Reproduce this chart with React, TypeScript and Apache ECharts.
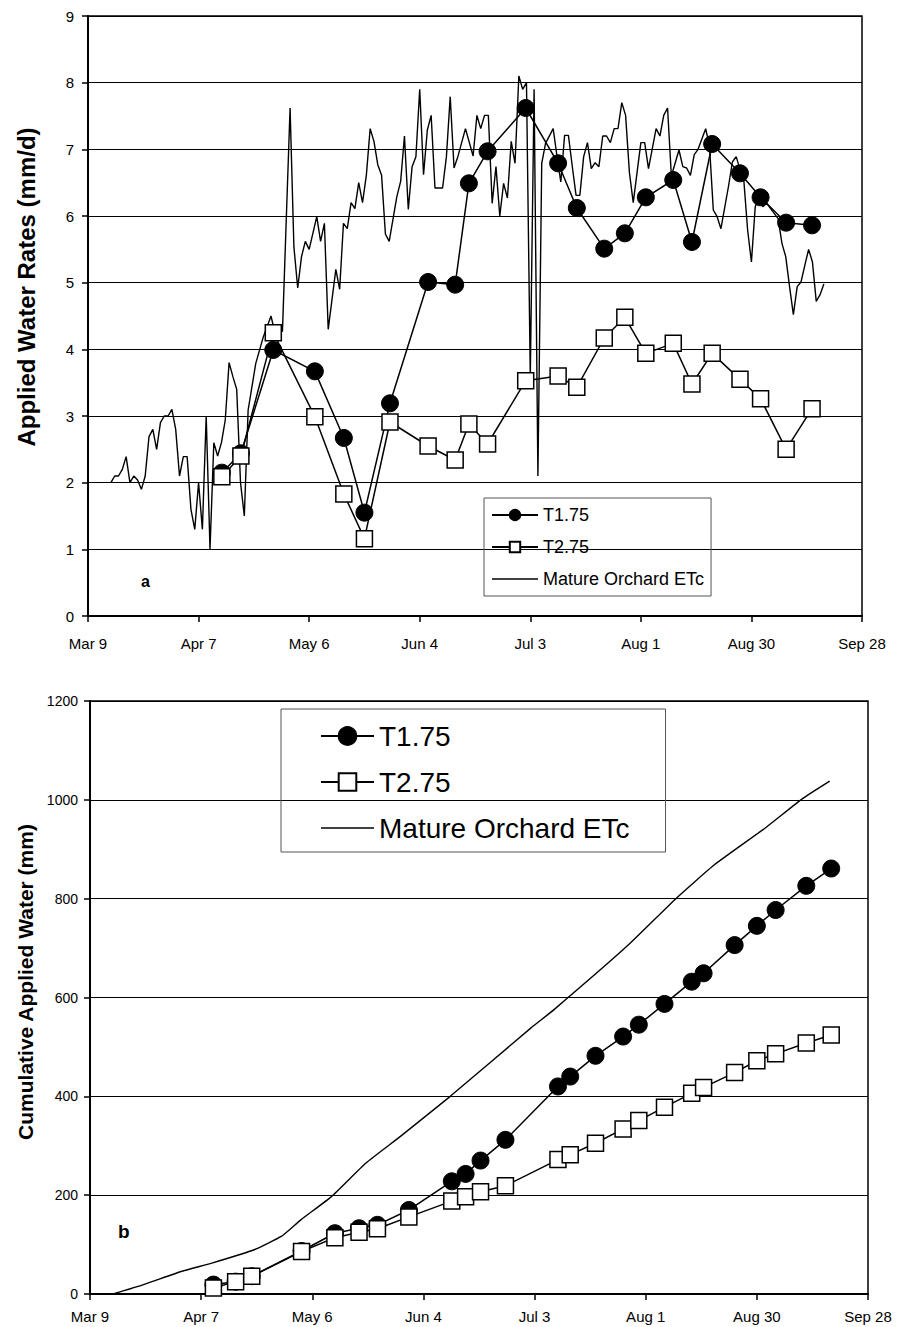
import React, { useEffect, useRef } from 'react';
import * as echarts from 'echarts';

const FONT = '"Liberation Sans", Arial, sans-serif';

const xTickLabels = ['Mar 9', 'Apr 7', 'May 6', 'Jun 4', 'Jul 3', 'Aug 1', 'Aug 30', 'Sep 28'];
const dayStep = 29;

// Panel a: daily Mature Orchard ETc (days after Mar 9, mm/d)
const etcRateDays = [
  6, 7, 8, 9, 10, 11, 12, 13, 14, 15, 16, 17, 18, 19, 20, 21, 22, 23, 24, 25, 26, 27, 28, 29, 30, 31, 32, 33, 34, 35,
  36, 37, 38, 39, 40, 41, 42, 44, 46, 48, 49, 51, 53, 54, 55, 56, 57, 58, 60, 61, 62, 63, 65, 66, 67, 68, 69, 70, 71,
  72, 73, 74, 75, 76, 77, 78, 79, 81, 82, 83, 84, 85, 86, 87, 88, 89, 90, 91, 93, 94, 95, 96, 97, 99, 101, 102, 103,
  104, 105, 106, 107, 108, 109, 110, 111, 112, 113, 114, 115, 116, 117, 118, 119, 120, 122, 123, 124, 125, 126, 127,
  128, 129, 130, 131, 132, 133, 134, 135, 136, 137, 138, 139, 140, 141, 142, 143, 145, 146, 147, 149, 150, 151, 152,
  153, 155, 156, 157, 158, 159, 160, 162, 163, 164, 165, 166, 168, 169, 170, 171, 172, 173, 174, 175, 176, 177, 178,
  181, 182, 183, 184, 185, 186, 187, 188, 189, 190, 191, 192, 193,
];
const etcRateValues = [
  2.0, 2.1, 2.1, 2.2, 2.39, 2.0, 2.1, 2.04, 1.9, 2.1, 2.69, 2.8, 2.5, 2.9, 3.0, 3.0, 3.1, 2.8, 2.1, 2.39, 2.39, 1.6, 1.3,
  2.0, 1.3, 3.0, 1.0, 2.6, 2.4, 2.6, 2.94, 3.8, 3.59, 3.4, 2.0, 1.5, 3.09, 3.79, 4.19, 4.5, 4.25, 4.27, 7.62, 5.54, 4.92,
  5.39, 5.62, 5.5, 5.99, 5.62, 5.89, 4.3, 5.2, 4.9, 5.89, 5.81, 6.2, 6.11, 6.5, 6.2, 6.61, 7.31, 7.12, 6.77, 6.61, 5.73,
  5.62, 6.29, 6.52, 7.2, 6.1, 6.74, 6.89, 7.9, 6.62, 7.29, 7.51, 6.42, 6.42, 6.89, 7.79, 6.72, 6.89, 7.31, 6.9, 7.51,
  7.31, 7.51, 7.51, 6.19, 6.74, 6.0, 6.49, 6.27, 7.12, 6.79, 8.1, 7.9, 8.0, 3.6, 7.9, 2.1, 6.79, 7.09, 7.31, 6.9, 6.51,
  7.21, 7.21, 6.75, 6.31, 6.31, 6.89, 7.1, 6.71, 6.8, 6.74, 7.2, 7.2, 7.1, 7.31, 7.31, 7.7, 7.51, 6.65, 6.2, 7.1, 7.1,
  6.71, 7.31, 7.2, 7.51, 7.62, 6.6, 6.99, 6.74, 6.72, 6.61, 6.92, 7.0, 7.31, 7.05, 6.09, 5.99, 5.81, 6.45, 6.81, 6.89,
  6.7, 6.54, 5.79, 5.31, 6.14, 6.3, 6.14, 6.19, 5.96, 5.59, 5.39, 4.94, 4.52, 4.94, 5.01, 5.26, 5.5, 5.31, 4.72, 4.82,
  4.98,
];

// Panel a: treatment rates
const rateDays = [35.1, 40.1, 48.6, 59.5, 67.1, 72.5, 79.2, 89.2, 96.3, 99.9, 104.8, 114.8, 123.3, 128.2, 135.4, 140.8, 146.3, 153.5, 158.4, 163.7, 171, 176.4, 183.1, 189.9];
const t1Rates = [2.15, 2.44, 3.99, 3.67, 2.67, 1.55, 3.19, 5.01, 4.97, 6.49, 6.97, 7.62, 6.79, 6.12, 5.51, 5.74, 6.28, 6.54, 5.61, 7.08, 6.64, 6.28, 5.9, 5.86];
const t2Rates = [2.09, 2.4, 4.25, 2.99, 1.83, 1.16, 2.91, 2.55, 2.34, 2.88, 2.58, 3.53, 3.6, 3.43, 4.17, 4.48, 3.94, 4.09, 3.48, 3.94, 3.55, 3.26, 2.5, 3.11];

// Panel b: cumulative applied water (mm)
const cumDays = [32.2, 38, 42.2, 55.2, 63.9, 70.2, 75, 83.2, 94.4, 98, 101.9, 108.4, 122.1, 125.3, 131.9, 139.1, 143.2, 149.9, 157, 160.1, 168.2, 174, 178.9, 186.9, 193.4];
const t1Cum = [19, 25, 36, 87, 123, 133, 140, 170, 228, 243, 270, 312, 420, 440, 482, 521, 545, 587, 632, 649, 706, 745, 777, 826, 861];
const t2Cum = [12, 25, 36, 86, 114, 125, 132, 156, 188, 197, 207, 219, 272, 282, 305, 334, 351, 378, 406, 418, 448, 472, 486, 508, 524];
const etcCumDays = [6, 14, 24, 32, 43, 50, 55, 63, 72, 81, 94, 115, 121, 140, 153, 163, 176, 186, 193];
const etcCumValues = [0, 19, 46, 63, 90, 117, 150, 197, 265, 319, 400, 538, 575, 703, 801, 869, 942, 1003, 1038];

const seriesNames = ['T1.75', 'T2.75', 'Mature Orchard ETc'];
const yTitles = ['Applied Water Rates (mm/d)', 'Cumulative Applied Water (mm)'];
const panelTags = ['a', 'b'];

const zip = (xs: number[], ys: number[]) => xs.map((x, i) => [x, ys[i]]);

function xAxis(gridIndex: number, margin: number, fontSize: number) {
  return {
    type: 'value',
    gridIndex,
    min: 0,
    max: dayStep * (xTickLabels.length - 1),
    interval: dayStep,
    axisLine: { show: true, lineStyle: { color: '#000', width: 2 } },
    axisTick: { show: true, inside: false, length: 6, lineStyle: { color: '#000', width: 1.5 } },
    splitLine: { show: false },
    axisLabel: {
      margin,
      color: '#000',
      fontFamily: FONT,
      fontSize,
      formatter: (v: number) => xTickLabels[Math.round(v / dayStep)] ?? '',
      showMinLabel: true,
      showMaxLabel: true,
    },
  };
}

function yAxis(gridIndex: number, max: number, interval: number, labelSize: number, labelMargin: number) {
  return {
    type: 'value',
    gridIndex,
    min: 0,
    max,
    interval,
    axisLine: { show: true, lineStyle: { color: '#000', width: 2 } },
    axisTick: { show: true, inside: false, length: 6, lineStyle: { color: '#000', width: 1.5 } },
    splitLine: { show: true, lineStyle: { color: '#000', width: 1 } },
    axisLabel: { margin: labelMargin, color: '#000', fontFamily: FONT, fontSize: labelSize, formatter: (v: number) => String(v) },
  };
}

function panelSeries(idx: number, t1: number[][], t2: number[][], etc: number[][], sym: number, smoothEtc: number) {
  return [
    {
      name: seriesNames[2],
      type: 'line',
      xAxisIndex: idx,
      yAxisIndex: idx,
      data: etc,
      showSymbol: false,
      symbol: 'none',
      smooth: smoothEtc,
      color: '#000',
      itemStyle: { color: '#000' },
      lineStyle: { color: '#000', width: 1.4 },
      z: 2,
    },
    {
      name: seriesNames[0],
      type: 'line',
      xAxisIndex: idx,
      yAxisIndex: idx,
      data: t1,
      symbol: 'circle',
      symbolSize: sym,
      itemStyle: { color: '#000', borderColor: '#000', borderWidth: 1 },
      lineStyle: { color: '#000', width: 1.5 },
      z: 3,
    },
    {
      name: seriesNames[1],
      type: 'line',
      xAxisIndex: idx,
      yAxisIndex: idx,
      data: t2,
      symbol: 'rect',
      symbolSize: sym - 1,
      itemStyle: { color: '#fff', borderColor: '#000', borderWidth: 1.5 },
      lineStyle: { color: '#000', width: 1.5 },
      z: 4,
    },
  ];
}

const legendData = [
  { name: seriesNames[0] },
  { name: seriesNames[1] },
  { name: seriesNames[2], icon: 'path://M0,0H100V3H0Z', itemStyle: { color: '#000' } },
];

export default function App() {
  const ref = useRef<HTMLDivElement>(null);
  useEffect(() => {
    if (!ref.current) return;
    const chart = echarts.init(ref.current, undefined, { renderer: 'svg' });
    chart.setOption({
      animation: false,
      backgroundColor: '#fff',
      textStyle: { fontFamily: FONT },
      grid: [
        { left: 88, top: 16, width: 774, height: 600, show: true, borderColor: '#000', borderWidth: 1.5, backgroundColor: 'transparent' },
        { left: 90, top: 701, width: 778, height: 593, show: true, borderColor: '#000', borderWidth: 1.5, backgroundColor: 'transparent' },
      ],
      xAxis: [xAxis(0, 20, 15), xAxis(1, 15, 15)],
      yAxis: [yAxis(0, 9, 1, 15, 14), yAxis(1, 1200, 200, 14, 12)],
      legend: [
        {
          data: legendData,
          orient: 'vertical',
          left: 484,
          top: 498,
          itemWidth: 46,
          itemHeight: 13,
          itemGap: 14,
          padding: [8, 7, 8, 7],
          borderColor: '#555',
          borderWidth: 1,
          selectedMode: false,
          textStyle: { fontFamily: FONT, fontSize: 18, color: '#000' },
        },
        {
          data: legendData,
          orient: 'vertical',
          left: 281,
          top: 709,
          itemWidth: 53,
          itemHeight: 22,
          itemGap: 18,
          padding: [13, 36, 10, 39],
          borderColor: '#555',
          borderWidth: 1,
          selectedMode: false,
          textStyle: { fontFamily: FONT, fontSize: 28, color: '#000' },
        },
      ],
      graphic: [
        {
          type: 'text', x: 26, y: 287, rotation: Math.PI / 2,
          style: { text: yTitles[0], fontFamily: FONT, fontWeight: 'bold', fontSize: 24, fill: '#000', textAlign: 'center', textVerticalAlign: 'middle' },
        },
        {
          type: 'text', x: 25, y: 982, rotation: Math.PI / 2,
          style: { text: yTitles[1], fontFamily: FONT, fontWeight: 'bold', fontSize: 21, fill: '#000', textAlign: 'center', textVerticalAlign: 'middle' },
        },
        { type: 'text', left: 141, top: 573, style: { text: panelTags[0], fontFamily: FONT, fontWeight: 'bold', fontSize: 16, fill: '#000' } },
        { type: 'text', left: 118, top: 1222, style: { text: panelTags[1], fontFamily: FONT, fontWeight: 'bold', fontSize: 19, fill: '#000' } },
      ],
      series: [
        ...panelSeries(0, zip(rateDays, t1Rates), zip(rateDays, t2Rates), zip(etcRateDays, etcRateValues), 17, 0),
        ...panelSeries(1, zip(cumDays, t1Cum), zip(cumDays, t2Cum), zip(etcCumDays, etcCumValues), 17, 0.15),
      ],
    });
    return () => chart.dispose();
  }, []);
  return <div ref={ref} style={{ position: 'absolute', left: 0, top: 0, width: 907, height: 1327 }} />;
}
